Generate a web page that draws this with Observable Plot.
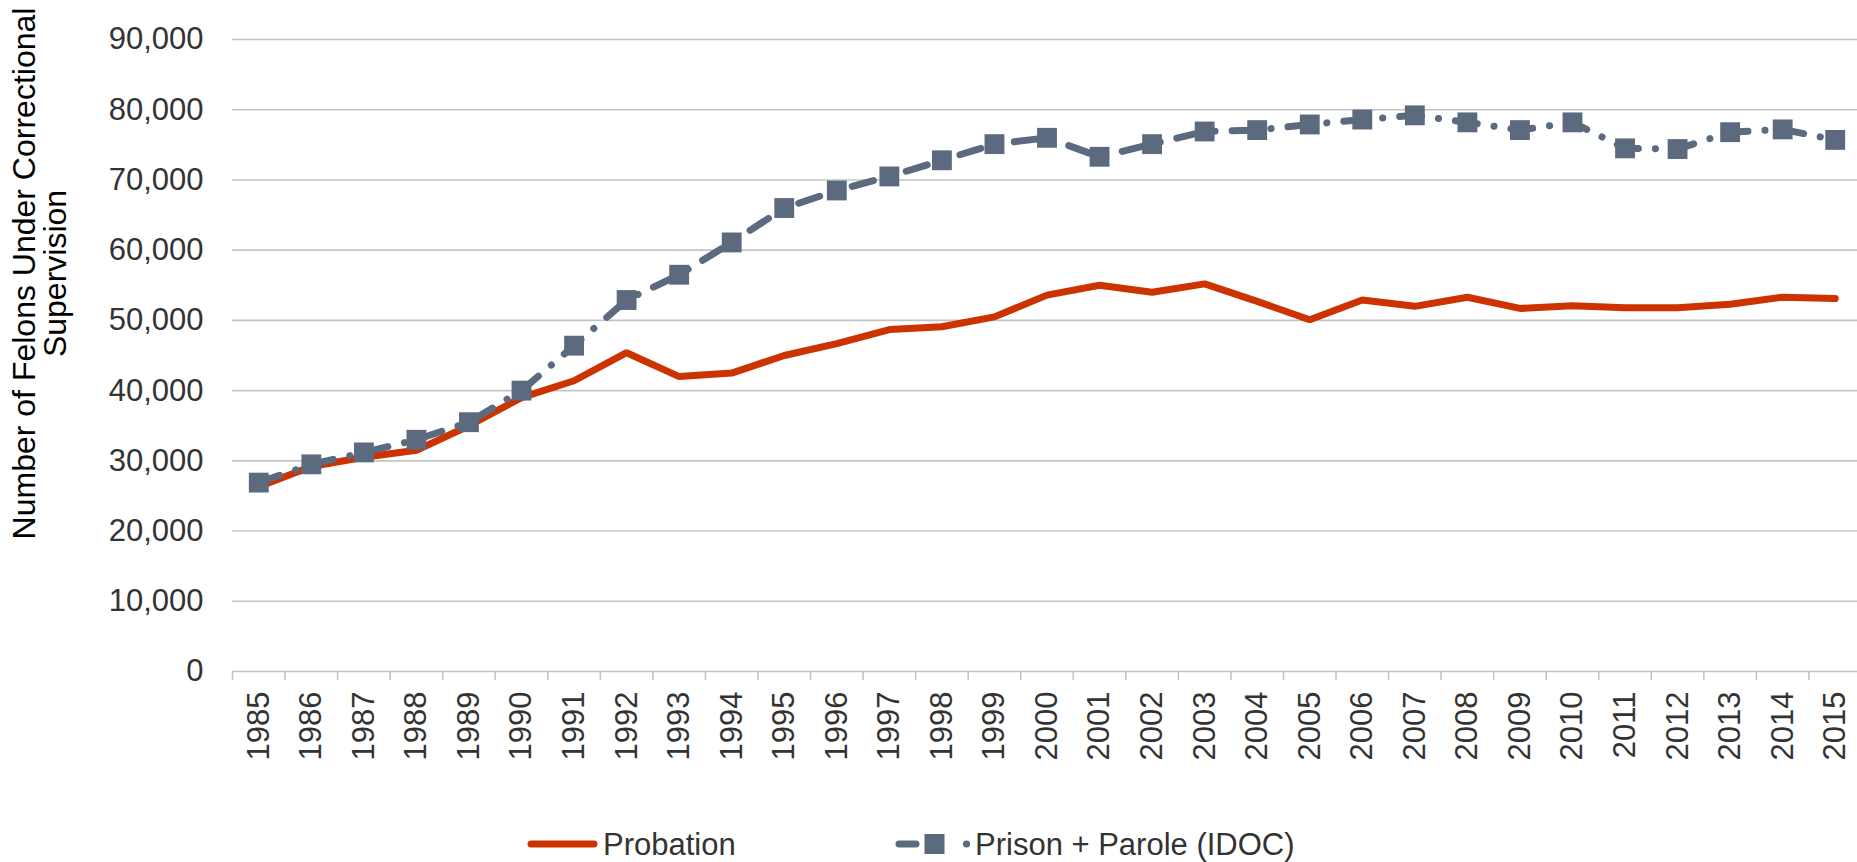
<!DOCTYPE html>
<html>
<head>
<meta charset="utf-8">
<script src="https://cdn.jsdelivr.net/npm/d3@7"></script>
<script src="https://cdn.jsdelivr.net/npm/@observablehq/plot@0.6"></script>
<style>
  html, body { margin: 0; padding: 0; background: white; }
  #wrap { position: relative; width: 1857px; height: 862px; overflow: hidden; }
  #legend { position: absolute; left: 0; top: 820px; }
</style>
</head>
<body>
<div id="wrap"></div>
<script>
const years = [1985, 1986, 1987, 1988, 1989, 1990, 1991, 1992, 1993, 1994, 1995, 1996, 1997, 1998, 1999, 2000,
               2001, 2002, 2003, 2004, 2005, 2006, 2007, 2008, 2009, 2010, 2011, 2012, 2013, 2014, 2015];
const probation = [26300, 29200, 30500, 31500, 35000, 39000, 41400, 45400, 42000, 42500, 45000, 46700, 48700, 49100, 50500, 53600,
                   55000, 54000, 55200, 52700, 50100, 52900, 52000, 53300, 51700, 52100, 51800, 51800, 52300, 53300, 53100];
const prisonParole = [26900, 29500, 31200, 33000, 35500, 40000, 46400, 52900, 56500, 61100, 66000, 68500, 70500, 72800, 75100, 76000,
                      73300, 75100, 76900, 77100, 77900, 78600, 79200, 78200, 77100, 78200, 74500, 74400, 76800, 77200, 75700];
const yTicks = [0, 10000, 20000, 30000, 40000, 50000, 60000, 70000, 80000, 90000];
const seriesNames = ["Probation", "Prison + Parole (IDOC)"];
const yTitle = ["Number of Felons Under Correctional", "Supervision"];

const colProb = "#CC3300";
const colPris = "#5B6A7F";
const grid = "#c4c4c4";
const textCol = "#333333";

const probData = years.map((y, i) => ({year: y, value: probation[i]}));
const prisData = years.map((y, i) => ({year: y, value: prisonParole[i]}));
const bandEdges = years.map(y => y - 0.5).concat([years[years.length - 1] + 0.5]);

const chart = Plot.plot({
  width: 1857,
  height: 790,
  marginLeft: 232,
  marginRight: -4,
  marginTop: 39,
  marginBottom: 119,
  x: {type: "linear", domain: [years[0] - 0.5, years[years.length - 1] + 0.5]},
  y: {domain: [0, 90000]},
  style: {fontFamily: "'Liberation Sans', Arial, sans-serif", color: textCol, background: "white", overflow: "visible"},
  marks: [
    Plot.ruleY(yTicks, {stroke: grid, strokeWidth: 1.6}),
    Plot.axisX(bandEdges, {tickSize: 9, tickFormat: () => "", stroke: grid, strokeWidth: 1.6, label: null}),
    Plot.axisX(years, {tickSize: 0, tickPadding: 20, tickRotate: -90, fontSize: 31, tickFormat: d => String(d), label: null}),
    Plot.axisY(yTicks, {tickSize: 0, tickPadding: 29, fontSize: 31, tickFormat: d3.format(","), label: null}),
    Plot.text([yTitle[0]], {frameAnchor: "top-left", dx: 24 - 232, dy: 273 - 39, rotate: -90, fontSize: 32, textAnchor: "middle", lineAnchor: "middle", fill: "black"}),
    Plot.text([yTitle[1]], {frameAnchor: "top-left", dx: 55 - 232, dy: 273 - 39, rotate: -90, fontSize: 32, textAnchor: "middle", lineAnchor: "middle", fill: "black"}),
    Plot.line(probData, {x: "year", y: "value", stroke: colProb, strokeWidth: 7, strokeLinejoin: "miter", strokeLinecap: "round"}),
    Plot.line(prisData, {x: "year", y: "value", stroke: colPris, strokeWidth: 7, strokeDasharray: "22 17 0.1 17", strokeLinecap: "round", strokeLinejoin: "round"}),
    Plot.dot(prisData, {x: "year", y: "value", symbol: "square", r: 11.2, fill: colPris, stroke: "none"})
  ]
});
document.getElementById("wrap").appendChild(chart);

// Legend below the chart
const legend = d3.select("#wrap").append("svg")
  .attr("id", "legend").attr("width", 1857).attr("height", 42)
  .style("font-family", "'Liberation Sans', Arial, sans-serif");
const ly = 24;
legend.append("line").attr("x1", 531).attr("x2", 594).attr("y1", ly).attr("y2", ly)
  .attr("stroke", colProb).attr("stroke-width", 7).attr("stroke-linecap", "round");
legend.append("text").attr("x", 603).attr("y", ly).attr("dy", "0.35em")
  .attr("font-size", 31).attr("fill", textCol).text(seriesNames[0]);
legend.append("line").attr("x1", 899).attr("x2", 916).attr("y1", ly).attr("y2", ly)
  .attr("stroke", colPris).attr("stroke-width", 7).attr("stroke-linecap", "round");
legend.append("rect").attr("x", 924.5).attr("y", ly - 10).attr("width", 20).attr("height", 20).attr("fill", colPris);
legend.append("circle").attr("cx", 966.5).attr("cy", ly).attr("r", 3.6).attr("fill", colPris);
legend.append("text").attr("x", 975).attr("y", ly).attr("dy", "0.35em")
  .attr("font-size", 31).attr("fill", textCol).text(seriesNames[1]);
</script>
</body>
</html>
